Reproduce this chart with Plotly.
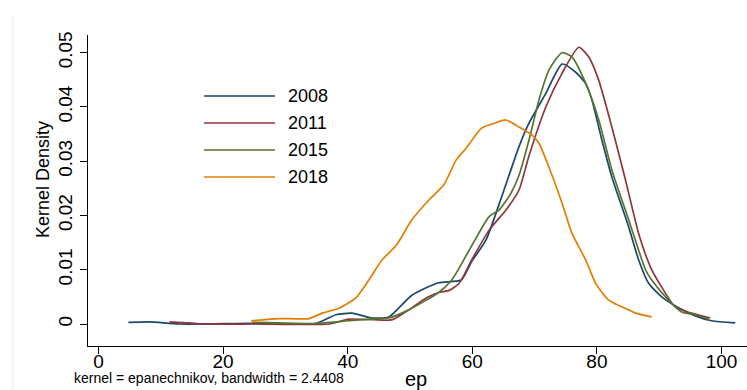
import plotly.graph_objects as go

# ---- data ----
years = ["2008", "2011", "2015", "2018"]
colors = ["#1a476f", "#90353b", "#55752f", "#e37e00"]

x_2008 = [4.8, 8.2, 13.0, 24.2, 34.9, 38.1, 40.7, 43.9, 46.6, 50.3, 54.6, 58.2, 59.9, 62.2, 64.7, 67.5, 69.1,
          71.8, 74.4, 76.6, 78.2, 79.2, 80.8, 82.4, 85.1, 86.7, 88.3, 90.4, 93.1, 95.8, 98.4, 102.2]
y_2008 = [0.0003, 0.0004, 0.0000, 0.0001, 0.0001, 0.0017, 0.0020, 0.0011, 0.0013, 0.0053, 0.0076, 0.0081,
          0.0115, 0.0155, 0.0234, 0.0327, 0.0370, 0.0425, 0.0479, 0.0464, 0.0443, 0.0413, 0.0339, 0.0271,
          0.0179, 0.0118, 0.0075, 0.0050, 0.0030, 0.0015, 0.0006, 0.0002]

x_2011 = [11.4, 14.6, 16.7, 25.0, 37.0, 40.2, 46.6, 47.4, 49.8, 52.6, 54.6, 56.3, 57.9, 59.9, 62.7, 65.4,
          67.5, 69.1, 71.8, 74.4, 77.1, 78.7, 80.3, 82.4, 84.6, 86.7, 88.6, 90.4, 92.6, 95.2, 98.2]
y_2011 = [0.0004, 0.0002, 0.0000, 0.0000, 0.0000, 0.0009, 0.0007, 0.0009, 0.0026, 0.0048, 0.0058, 0.0062,
          0.0075, 0.0118, 0.0173, 0.0210, 0.0247, 0.0310, 0.0400, 0.0462, 0.0510, 0.0492, 0.0449, 0.0363,
          0.0265, 0.0167, 0.0105, 0.0068, 0.0031, 0.0020, 0.0011]

x_2015 = [24.7, 29.0, 34.9, 40.2, 43.9, 46.6, 49.8, 52.6, 54.6, 56.7, 59.5, 62.7, 64.3, 66.2, 67.5, 69.1,
          70.7, 72.3, 74.4, 76.0, 78.2, 80.3, 82.4, 85.1, 87.8, 88.8, 91.5, 93.6, 95.8, 97.9]
y_2015 = [0.0003, 0.0002, 0.0001, 0.0006, 0.0009, 0.0011, 0.0026, 0.0044, 0.0058, 0.0081, 0.0136, 0.0198,
          0.0210, 0.0241, 0.0274, 0.0339, 0.0413, 0.0468, 0.0500, 0.0492, 0.0444, 0.0376, 0.0284, 0.0192,
          0.0100, 0.0081, 0.0044, 0.0022, 0.0017, 0.0009]

x_2018 = [24.5, 29.0, 33.8, 35.9, 38.6, 41.3, 43.4, 45.5, 47.8, 50.3, 53.0, 55.4, 57.4, 59.0, 61.5, 63.8,
          65.4, 67.5, 69.6, 70.7, 72.3, 74.4, 76.0, 78.2, 79.8, 81.9, 85.1, 86.2, 88.8]
y_2018 = [0.0006, 0.0010, 0.0010, 0.0020, 0.0029, 0.0048, 0.0081, 0.0118, 0.0145, 0.0192, 0.0228, 0.0256,
          0.0302, 0.0324, 0.0361, 0.0371, 0.0376, 0.0363, 0.0348, 0.0333, 0.0289, 0.0223, 0.0167, 0.0118,
          0.0075, 0.0044, 0.0026, 0.0020, 0.0013]

x_ticks = [0, 20, 40, 60, 80, 100]
y_ticks = [0, 0.01, 0.02, 0.03, 0.04, 0.05]
y_tick_labels = ["0", "0.01", "0.02", "0.03", "0.04", "0.05"]

note_text = "kernel = epanechnikov, bandwidth = 2.4408"
x_title = "ep"
y_title = "Kernel Density"

series = [(x_2008, y_2008), (x_2011, y_2011), (x_2015, y_2015), (x_2018, y_2018)]

FONT = "Liberation Sans, Arial, sans-serif"
W, H = 747, 390
L, R, T, B = 88, 0, 35, 44
PW, PH = W - L - R, H - T - B


def px(xp):
    return (xp - L) / PW


def py(yp):
    return (H - B - yp) / PH


fig = go.Figure()
for (xs, ys), name, c in zip(series, years, colors):
    fig.add_trace(go.Scatter(x=xs, y=ys, mode="lines", name=name,
                             line=dict(color=c, width=1.7, shape="spline", smoothing=0.6),
                             showlegend=False))

shapes = []
annotations = []
# manual legend (Stata style, inside plot)
leg_rows = [96, 123, 150, 177]
for yy, name, c in zip(leg_rows, years, colors):
    shapes.append(dict(type="line", xref="paper", yref="paper", x0=px(204), x1=px(275),
                       y0=py(yy), y1=py(yy), line=dict(color=c, width=1.7)))
    annotations.append(dict(xref="paper", yref="paper", x=px(286), y=py(yy), text=name,
                            showarrow=False, xanchor="left", yanchor="middle",
                            font=dict(family=FONT, size=18, color="#000000")))

# faint graph-region edge on the left
shapes.append(dict(type="line", xref="paper", yref="paper", x0=px(13), x1=px(13),
                   y0=py(390), y1=py(15), line=dict(color="#e6eef0", width=1)))

annotations.append(dict(xref="paper", yref="paper", x=px(43), y=py(180), text=y_title,
                        textangle=-90, showarrow=False, xanchor="center", yanchor="middle",
                        font=dict(family=FONT, size=18, color="#000000")))
annotations.append(dict(xref="paper", yref="paper", x=px(416), y=py(379), text=x_title,
                        showarrow=False, xanchor="center", yanchor="middle",
                        font=dict(family=FONT, size=20, color="#000000")))
annotations.append(dict(xref="paper", yref="paper", x=px(72), y=py(378), text=note_text,
                        showarrow=False, xanchor="left", yanchor="middle",
                        font=dict(family=FONT, size=14, color="#000000")))

x0_px, x100_px = 98.5, 721.5
ppu = (x100_px - x0_px) / 100.0
xr = [(L - x0_px) / ppu, (W - R - x0_px) / ppu]
y0_px, y05_px = 324.0, 52.7
ppv = (y0_px - y05_px) / 0.05
yr = [(y0_px - (H - B)) / ppv, (y0_px - T) / ppv]

fig.update_layout(
    width=W, height=H,
    margin=dict(l=L, r=R, t=T, b=B),
    paper_bgcolor="white", plot_bgcolor="white",
    font=dict(family=FONT, size=18, color="#000000"),
    shapes=shapes, annotations=annotations,
    showlegend=False,
)
fig.update_xaxes(range=xr, tickvals=x_ticks, ticks="outside", ticklen=7, tickcolor="#000000",
                 showline=True, linecolor="#000000", linewidth=1, showgrid=False, zeroline=False,
                 ticklabelstandoff=-9,
                 tickfont=dict(family=FONT, size=19, color="#000000"))
fig.update_yaxes(range=yr, tickvals=y_ticks, ticktext=y_tick_labels, tickangle=-90, ticks="outside",
                 ticklen=7, tickcolor="#000000", showline=True, linecolor="#000000", linewidth=1,
                 showgrid=False, zeroline=False,
                 tickfont=dict(family=FONT, size=19, color="#000000"))

fig.write_html("out.html", config={"displayModeBar": False},
               post_script="document.body.style.margin='0';document.body.style.overflow='hidden';")
